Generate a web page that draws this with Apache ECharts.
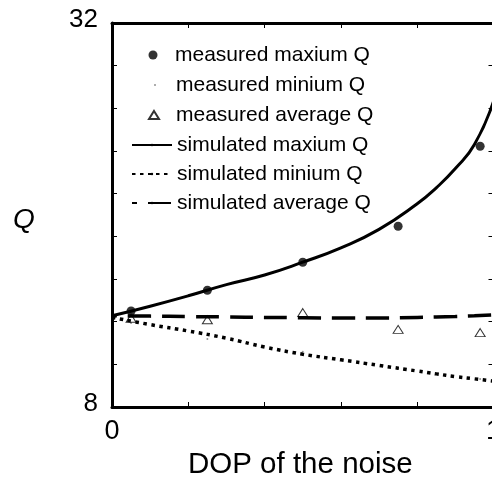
<!DOCTYPE html>
<html>
<head>
<meta charset="utf-8">
<script src="https://cdn.jsdelivr.net/npm/echarts@6/dist/echarts.min.js"></script>
<style>
  html, body { margin: 0; padding: 0; background: #fff; }
  #chart { width: 492px; height: 483px; }
</style>
</head>
<body>
<div id="chart"></div>
<script>
// DOP of the noise at which Q was measured
const measuredDop = [0.05, 0.25, 0.5, 0.75, 0.965];
const measuredMax = [14.0, 15.3, 17.05, 19.3, 24.3];
const measuredMin = [13.25, 12.25, 11.45, 10.4, 9.75];
const measuredAvg = [13.55, 13.45, 13.9, 12.85, 12.65];

// Simulated curves
const simDop = [0, 0.1, 0.2, 0.3, 0.4, 0.5, 0.6, 0.7, 0.8, 0.85, 0.9, 0.95, 1.0];
const simMax = [13.7, 14.3, 14.95, 15.65, 16.25, 17.05, 17.95, 19.1, 20.7, 21.7, 22.9, 24.4, 27.1];
const simMin = [13.6, 13.15, 12.75, 12.3, 11.75, 11.3, 10.95, 10.6, 10.25, 10.07, 9.9, 9.76, 9.62];
const simAvg = [13.7, 13.68, 13.65, 13.63, 13.6, 13.58, 13.56, 13.56, 13.6, 13.63, 13.66, 13.7, 13.76];

const yTickLabels = [8, 32];
const xTickLabels = [0, 1];

const FONT = '"Liberation Sans", Arial, sans-serif';
const BLACK = '#000';

function pairs(xs, ys) { return xs.map((x, i) => [x, ys[i]]); }

const chart = echarts.init(document.getElementById('chart'), null, { renderer: 'canvas' });

// legend marker shapes (scaled into the icon box, aspect kept)
const ICON_DOT = 'path://M0,4.5a4.5,4.5 0 1,0 9,0a4.5,4.5 0 1,0 -9,0Z';
const ICON_TRI = 'path://M5,0L10,8L0,8Z';

// a legend box is placed by its visible content, so marker rows start at the marker
const legendRows = [
  { name: 'measured maxium Q', left: 148.5, top: 43, w: 34, h: 9, icon: ICON_DOT },
  { name: 'measured minium Q', left: 154, top: 73, w: 32, h: 2, icon: ICON_DOT },
  { name: 'measured average Q', left: 148, top: 103, w: 34, h: 8, icon: ICON_TRI },
  { name: 'simulated maxium Q', left: 131, top: 133, w: 40, h: 3 },
  { name: 'simulated minium Q', left: 131, top: 162, w: 40, h: 3 },
  { name: 'simulated average Q', left: 131, top: 191, w: 40, h: 3 }
];

const option = {
  animation: false,
  backgroundColor: '#fff',
  grid: { left: 112, right: -1.5, top: 23, bottom: 76, containLabel: false, outerBoundsMode: 'none' },
  legend: legendRows.map(r => ({
    data: [r.icon ? { name: r.name, icon: r.icon } : r.name],
    left: r.left,
    top: r.top,
    padding: 0,
    itemWidth: r.w,
    itemHeight: r.h,
    selectedMode: false,
    textStyle: { fontFamily: FONT, fontSize: 21, color: BLACK, lineHeight: 24 }
  })),
  xAxis: [
    {
      type: 'value', min: 0, max: 1, interval: 0.2,
      axisLine: { show: true, onZero: false, lineStyle: { color: BLACK, width: 3 } },
      axisTick: { show: true, inside: true, length: 5, lineStyle: { color: BLACK, width: 1 } },
      splitLine: { show: false },
      axisLabel: {
        fontFamily: FONT, fontSize: 27, color: BLACK, margin: 11,
        hideOverlap: false, showMaxLabel: true, showMinLabel: true,
        formatter: v => (xTickLabels.some(t => Math.abs(t - v) < 1e-6) ? String(Math.round(v)) : '')
      }
    },
    {
      type: 'value', min: 0, max: 1, interval: 0.2, position: 'top',
      axisLine: { show: true, onZero: false, lineStyle: { color: BLACK, width: 3 } },
      axisTick: { show: true, inside: true, length: 5, lineStyle: { color: BLACK, width: 1 } },
      splitLine: { show: false },
      axisLabel: { show: false }
    }
  ],
  yAxis: [
    {
      type: 'value', min: 8, max: 32, interval: 8 / 3,
      axisLine: { show: true, onZero: false, lineStyle: { color: BLACK, width: 3 } },
      axisTick: { show: true, inside: true, length: 5, lineStyle: { color: BLACK, width: 1 } },
      splitLine: { show: false },
      axisLabel: {
        fontFamily: FONT, fontSize: 26, color: BLACK, margin: 14,
        verticalAlign: 'bottom', lineHeight: 7,
        showMaxLabel: true, showMinLabel: true,
        formatter: v => {
          const t = yTickLabels.find(k => Math.abs(k - v) < 1e-6);
          return t === undefined ? '' : String(t);
        }
      }
    },
    {
      type: 'value', min: 8, max: 32, interval: 8 / 3, position: 'right',
      axisLine: { show: true, onZero: false, lineStyle: { color: BLACK, width: 3 } },
      axisTick: { show: true, inside: true, length: 5, lineStyle: { color: BLACK, width: 1 } },
      splitLine: { show: false },
      axisLabel: { show: false }
    }
  ],
  graphic: [
    {
      type: 'text', left: 188, top: 450,
      style: { text: 'DOP of the noise', fontFamily: FONT, fontSize: 29.5, fill: BLACK }
    },
    {
      type: 'text', left: 13, top: 206,
      style: { text: 'Q', fontFamily: FONT, fontSize: 28, fontStyle: 'italic', fill: BLACK }
    }
  ],
  series: [
    {
      name: 'simulated maxium Q', type: 'line', smooth: true, symbol: 'none',
      data: pairs(simDop, simMax),
      lineStyle: { color: BLACK, width: 3 }, itemStyle: { color: BLACK }
    },
    {
      name: 'simulated minium Q', type: 'line', smooth: true, symbol: 'none',
      data: pairs(simDop, simMin),
      lineStyle: { color: BLACK, width: 3.5, type: [3.5, 4.5], cap: 'butt' }, itemStyle: { color: BLACK }
    },
    {
      name: 'simulated average Q', type: 'line', smooth: true, symbol: 'none',
      data: pairs(simDop, simAvg),
      lineStyle: { color: BLACK, width: 3.5, type: [23, 11], dashOffset: 18 }, itemStyle: { color: BLACK }
    },
    {
      name: 'measured maxium Q', type: 'scatter', symbol: 'circle', symbolSize: 9,
      data: pairs(measuredDop, measuredMax),
      itemStyle: { color: BLACK }
    },
    {
      name: 'measured minium Q', type: 'scatter', symbol: 'circle', symbolSize: 2,
      data: pairs(measuredDop, measuredMin),
      itemStyle: { color: '#777' }
    },
    {
      name: 'measured average Q', type: 'scatter', symbol: 'triangle', symbolSize: [10, 8],
      data: pairs(measuredDop, measuredAvg),
      itemStyle: { color: '#fff', borderColor: BLACK, borderWidth: 1 }
    }
  ]
};

chart.setOption(option);
</script>
</body>
</html>
